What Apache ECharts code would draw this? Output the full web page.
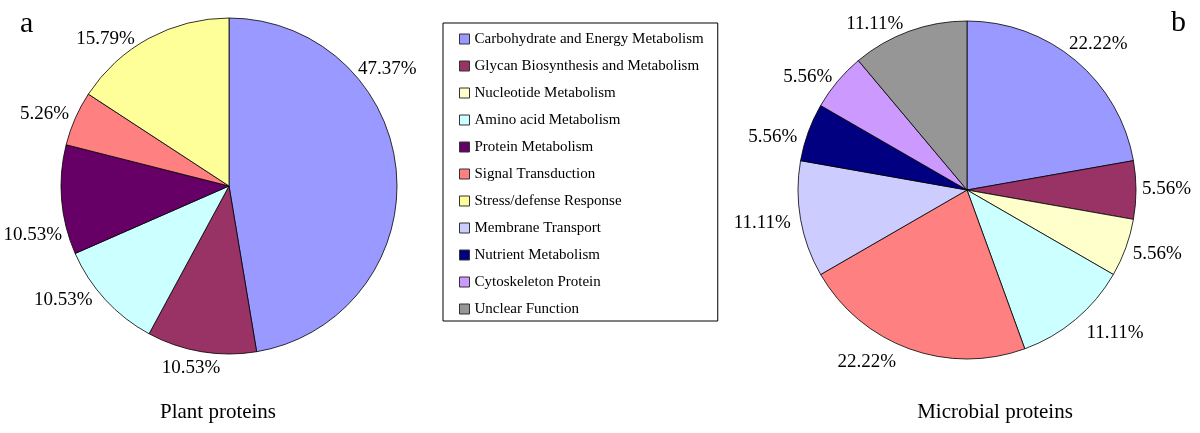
<!DOCTYPE html>
<html>
<head>
<meta charset="utf-8">
<script src="https://cdn.jsdelivr.net/npm/echarts@6/dist/echarts.min.js"></script>
<style>html,body{margin:0;padding:0;background:#fff}#c{width:1200px;height:433px}</style>
</head>
<body>
<div id="c"></div>
<script>
const categories = [
  'Carbohydrate and Energy Metabolism',
  'Glycan Biosynthesis and Metabolism',
  'Nucleotide Metabolism',
  'Amino acid Metabolism',
  'Protein Metabolism',
  'Signal Transduction',
  'Stress/defense Response',
  'Membrane Transport',
  'Nutrient Metabolism',
  'Cytoskeleton Protein',
  'Unclear Function'
];
// protein counts per category
const plantCounts    = [9, 2, 0, 2, 2, 1, 3, 0, 0, 0, 0];
const microbeCounts  = [4, 1, 1, 2, 0, 4, 0, 2, 1, 1, 2];
const colors = ['#9999FF','#993366','#FFFFCC','#CCFFFF','#660066','#FF8080','#FFFF99','#CCCCFF','#000080','#CC99FF','#969696'];
const panelTitles = ['Plant proteins', 'Microbial proteins'];
const panelLetters = ['a', 'b'];

const FONT = 'Liberation Serif';

// label nudges (px) relative to the default outside placement, per category index
const plantLabelNudge = { 0: [-45, -102], 1: [-7, -6], 3: [-17, -25], 4: [7, 30], 5: [-1, 6], 6: [-30, 24] };
const microbeLabelNudge = { 0: [2, 6], 1: [0, -3], 2: [1, -7], 3: [19, -13], 5: [-34, -12], 7: [-3, -5], 8: [-5, 14], 9: [-6, 14], 10: [-26, 14] };

function buildData(counts) {
  const total = counts.reduce((a, b) => a + b, 0);
  const out = [];
  let acc = 0;
  counts.forEach((v, i) => {
    if (v <= 0) return;
    const mid = (acc + v / 2) / total * Math.PI * 2; // clockwise from top
    acc += v;
    out.push({
      name: categories[i],
      value: v,
      catIndex: i,
      mid: mid,
      pct: (v / total * 100).toFixed(2) + '%',
      itemStyle: { color: colors[i] }
    });
  });
  return out;
}

function pieSeries(counts, center, radius, nudge) {
  const data = buildData(counts);
  return {
    type: 'pie',
    center: center,
    radius: radius,
    startAngle: 90,
    clockwise: true,
    avoidLabelOverlap: false,
    silent: true,
    animation: false,
    itemStyle: { borderColor: '#000', borderWidth: 0.8 },
    label: {
      show: true,
      position: 'outside',
      fontFamily: FONT,
      fontSize: 19,
      color: '#000',
      formatter: p => p.data.pct
    },
    labelLine: { show: false },
    labelLayout: function (params) {
      const d = data[params.dataIndex];
      const dx = Math.sin(d.mid), dy = -Math.cos(d.mid);
      const w = params.labelRect.width, h = 19;
      const k = 6 + Math.abs(dx) * w / 2 + Math.abs(dy) * h / 2;
      const n = nudge[d.catIndex] || [0, 0];
      return {
        x: center[0] + (radius + k) * dx + n[0],
        y: center[1] + (radius + k) * dy + n[1] + 2,
        align: 'center',
        verticalAlign: 'middle'
      };
    },
    data: data
  };
}

const chart = echarts.init(document.getElementById('c'), null, { renderer: 'canvas' });
chart.setOption({
  backgroundColor: '#fff',
  animation: false,
  title: [
    { text: panelTitles[0], left: 218, top: 402, textAlign: 'center', padding: 0,
      textStyle: { fontFamily: FONT, fontSize: 21, fontWeight: 'normal', color: '#000' } },
    { text: panelTitles[1], left: 995, top: 402, textAlign: 'center', padding: 0,
      textStyle: { fontFamily: FONT, fontSize: 21, fontWeight: 'normal', color: '#000' } },
    { text: panelLetters[0], left: 20, top: 9, padding: 0,
      textStyle: { fontFamily: FONT, fontSize: 30, fontWeight: 'normal', color: '#000' } },
    { text: panelLetters[1], left: 1171, top: 8, padding: 0,
      textStyle: { fontFamily: FONT, fontSize: 30, fontWeight: 'normal', color: '#000' } }
  ],
  legend: {
    orient: 'vertical',
    left: 443,
    top: 23,
    data: categories,
    selectedMode: false,
    icon: 'rect',
    itemWidth: 10,
    itemHeight: 10,
    itemGap: 11,
    padding: [8, 14, 4, 16],
    borderColor: '#000',
    borderWidth: 1,
    itemStyle: { borderColor: '#333', borderWidth: 1 },
    textStyle: { fontFamily: FONT, fontSize: 15, color: '#000', lineHeight: 16 }
  },
  series: [
    pieSeries(plantCounts, [229, 186], 168, plantLabelNudge),
    pieSeries(microbeCounts, [967, 190], 169, microbeLabelNudge)
  ]
});
</script>
</body>
</html>
